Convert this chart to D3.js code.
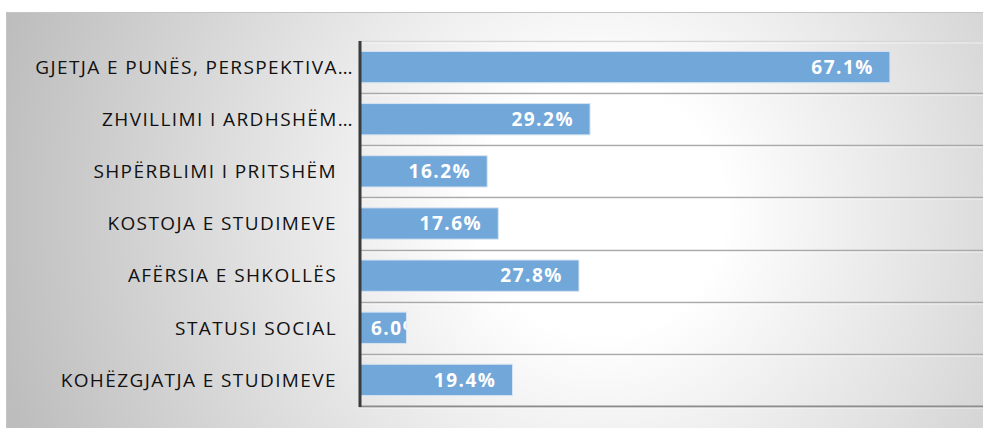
<!DOCTYPE html>
<html>
<head>
<meta charset="utf-8">
<script src="https://cdn.jsdelivr.net/npm/d3@7"></script>
<style>
  body { margin: 0; background: #fff; }
  svg { display: block; }
</style>
</head>
<body>
<script>
// chart data
const categories = [
  "GJETJA E PUNËS, PERSPEKTIVA…",
  "ZHVILLIMI I ARDHSHËM…",
  "SHPËRBLIMI I PRITSHËM",
  "KOSTOJA E STUDIMEVE",
  "AFËRSIA E SHKOLLËS",
  "STATUSI SOCIAL",
  "KOHËZGJATJA E STUDIMEVE"
];
const values = [67.1, 29.2, 16.2, 17.6, 27.8, 6.0, 19.4];
const valueLabels = ["67.1%", "29.2%", "16.2%", "17.6%", "27.8%", "6.0%", "19.4%"];

const data = categories.map((c, i) => ({ cat: c, value: values[i], label: valueLabels[i] }));

let width = 983, height = 428;
let margin = { top: 41, bottom: 22, left: 359, right: -9 };

let svg = d3.select('body').append('svg')
  .attr('width', width)
  .attr('height', height);

let defs = svg.append('defs');
let grad = defs.append('radialGradient')
  .attr('id', 'bg')
  .attr('gradientUnits', 'userSpaceOnUse')
  .attr('cx', 600).attr('cy', 210).attr('r', 620);
grad.append('stop').attr('offset', '0%').attr('stop-color', '#ffffff');
grad.append('stop').attr('offset', '20%').attr('stop-color', '#ffffff');
grad.append('stop').attr('offset', '100%').attr('stop-color', '#bdbdbd');

// chart frame with gradient
svg.append('rect')
  .attr('x', 6.5).attr('y', 12.5)
  .attr('width', width).attr('height', height)
  .attr('fill', 'url(#bg)')
  .attr('stroke', '#c4c4c4');

// scales
let xScale = d3.scaleLinear()
  .domain([0, 80])
  .range([margin.left, width - margin.right]);

let yScale = d3.scaleBand()
  .domain(categories)
  .range([margin.top, height - margin.bottom])
  .paddingInner(0.4)
  .paddingOuter(0.2);

const step = yScale.step();
const top0 = yScale(categories[0]) - step * 0.2;

// horizontal gridlines at band boundaries
let grid = svg.append('g');
d3.range(categories.length + 1).forEach(i => {
  let y = Math.round(top0 + i * step);
  let last = i === categories.length;
  grid.append('line')
    .attr('x1', margin.left).attr('x2', width)
    .attr('y1', y + 0.5).attr('y2', y + 0.5)
    .attr('stroke', i === 0 ? '#d8d8d8' : (last ? '#8c8c8c' : '#a9a9a9'))
    .attr('stroke-width', last ? 2 : 1.5);
  grid.append('line')
    .attr('x1', margin.left).attr('x2', width)
    .attr('y1', y + 2).attr('y2', y + 2)
    .attr('stroke', '#ffffff').attr('stroke-opacity', 0.6)
    .attr('stroke-width', 1);
});

// bars
let bars = svg.append('g').selectAll('g.bar')
  .data(data)
  .enter()
  .append('g')
  .attr('class', 'bar');

bars.append('clipPath')
  .attr('id', (d, i) => 'clip' + i)
  .append('rect')
  .attr('x', xScale(0))
  .attr('y', d => yScale(d.cat))
  .attr('width', d => xScale(d.value) - xScale(0))
  .attr('height', yScale.bandwidth());

bars.append('rect')
  .attr('x', xScale(0))
  .attr('y', d => yScale(d.cat))
  .attr('width', d => xScale(d.value) - xScale(0))
  .attr('height', yScale.bandwidth())
  .attr('fill', '#72a7d9')
  .attr('stroke', '#d6e4f2')
  .attr('stroke-width', 1);

// value labels inside bars, clipped to the bar
bars.append('text')
  .attr('clip-path', (d, i) => `url(#clip${i})`)
  .attr('y', d => yScale(d.cat) + yScale.bandwidth() / 2)
  .attr('dy', '0.36em')
  .attr('text-anchor', 'end')
  .style('font-family', 'Open Sans')
  .style('font-size', '19px')
  .style('font-weight', 'bold')
  .style('letter-spacing', '1.5px')
  .attr('fill', '#ffffff')
  .text(d => d.label)
  .attr('x', function(d) {
    let w = this.getComputedTextLength();
    return Math.max(xScale(d.value) - 16, xScale(0) + 12 + w);
  });

// category labels
svg.append('g').selectAll('text')
  .data(data)
  .enter()
  .append('text')
  .attr('x', d => d.cat.endsWith('…') ? 354 : 337)
  .attr('y', d => yScale(d.cat) + yScale.bandwidth() / 2)
  .attr('dy', '0.36em')
  .attr('text-anchor', 'end')
  .style('font-family', 'Open Sans')
  .style('font-size', '19px')
  .style('letter-spacing', '1.4px')
  .attr('fill', '#111')
  .text(d => d.cat);

// vertical axis line
svg.append('line')
  .attr('x1', margin.left + 1).attr('x2', margin.left + 1)
  .attr('y1', margin.top).attr('y2', height - margin.bottom + 1)
  .attr('stroke', '#3b3b3b')
  .attr('stroke-width', 3);
</script>
</body>
</html>
